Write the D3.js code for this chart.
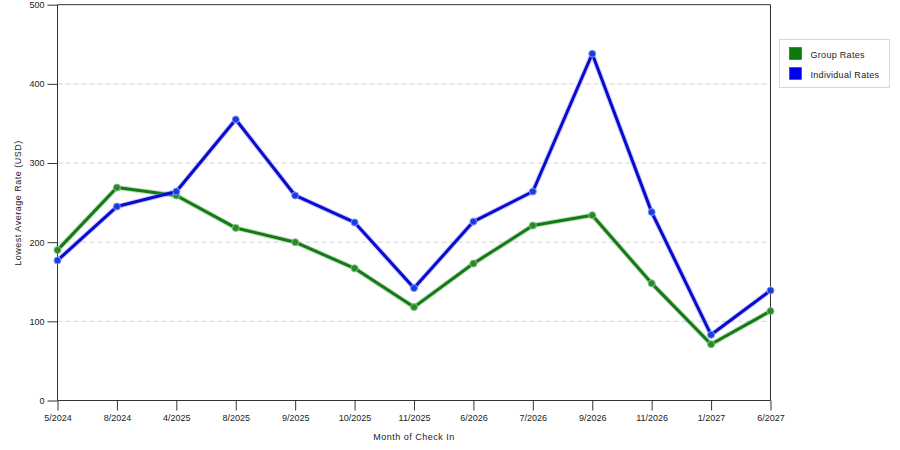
<!DOCTYPE html>
<html><head><meta charset="utf-8">
<script src="https://cdn.jsdelivr.net/npm/d3@7"></script>
<style>
body{margin:0;background:#fff;}
svg text{font-family:"Liberation Sans",Arial,sans-serif;font-size:9px;fill:#222;}
</style></head>
<body><svg id="c" width="900" height="450"></svg>
<script>
const months = ["5/2024","8/2024","4/2025","8/2025","9/2025","10/2025","11/2025","6/2026","7/2026","9/2026","11/2026","1/2027","6/2027"];
const groupRates = [190,269,259,218,200,167,118,173,221,234,148,71,113];
const individualRates = [177,245,264,355,259,225,142,226,264,438,238,83,139];
const yTicks = [0,100,200,300,400,500];
const seriesNames = ["Group Rates","Individual Rates"];

const svg = d3.select("#c");
const L=57.5, R=770.5, T=4.7, B=400.5;
const x = d3.scalePoint().domain(months).range([L,R]);
const y = d3.scaleLinear().domain([0,500]).range([B,T]);

// grid
svg.append("g").selectAll("line").data(yTicks.filter(d=>d>0&&d<500)).join("line")
  .attr("x1",L).attr("x2",R).attr("y1",d=>y(d)).attr("y2",d=>y(d))
  .attr("stroke","#d4d4d4").attr("stroke-dasharray","5,3").attr("stroke-width",1);

// frame top/right
svg.append("line").attr("x1",L).attr("x2",R).attr("y1",T).attr("y2",T).attr("stroke","#333");
svg.append("line").attr("x1",R).attr("x2",R).attr("y1",T).attr("y2",B).attr("stroke","#333");

// axes
const ya = svg.append("g").attr("transform",`translate(${L},0)`)
  .call(d3.axisLeft(y).tickValues(yTicks).tickSize(10).tickPadding(3));
const xa = svg.append("g").attr("transform",`translate(0,${B})`)
  .call(d3.axisBottom(x).tickSize(10).tickPadding(4));
[ya,xa].forEach(a=>{a.selectAll("path,line").attr("stroke","#333");a.selectAll("text").style("font-size","9px").attr("fill","#222");});
xa.select(".domain").attr("d",`M${L},0H${R}`);
ya.select(".domain").attr("d",`M0,${B}V${T}`);

svg.append("text").attr("x",414).attr("y",440).attr("text-anchor","middle").style("letter-spacing","0.5px").text("Month of Check In");
svg.append("text").attr("transform",`translate(21,203) rotate(-90)`).attr("text-anchor","middle").style("letter-spacing","0.5px").text("Lowest Average Rate (USD)");

const series = [
  {name:seriesNames[0], values:groupRates, color:"#157a15", halo:"#7fc07f", marker:"#2a8a2a", sw:"#0a7a0a"},
  {name:seriesNames[1], values:individualRates, color:"#0a0acc", halo:"#8f8fff", marker:"#1040e0", sw:"#0000ee"}
];
const line = d3.line().x((d,i)=>x(months[i])).y(d=>y(d));
series.forEach(s=>{
  svg.append("path").datum(s.values).attr("d",line).attr("fill","none")
    .attr("stroke",s.halo).attr("stroke-width",5).attr("stroke-opacity",0.5).attr("stroke-linejoin","round");
  svg.append("path").datum(s.values).attr("d",line).attr("fill","none")
    .attr("stroke",s.color).attr("stroke-width",3).attr("stroke-linejoin","round");
  svg.append("g").selectAll("circle").data(s.values).join("circle")
    .attr("cx",(d,i)=>x(months[i])).attr("cy",d=>y(d)).attr("r",3.5)
    .attr("fill",s.marker).attr("stroke",s.halo).attr("stroke-width",1);
});

// legend
const lg = svg.append("g");
lg.append("rect").attr("x",779.5).attr("y",39.5).attr("width",110).attr("height",48)
  .attr("fill","#fff").attr("stroke","#d8d8d8");
series.forEach((s,i)=>{
  lg.append("rect").attr("x",789.5).attr("y",47.5+i*20).attr("width",12).attr("height",12)
    .attr("fill",s.sw).attr("stroke","#333").attr("stroke-width",0.5);
  lg.append("text").attr("x",810.5).attr("y",57.5+i*20).style("letter-spacing","0.3px").text(s.name);
});
</script></body></html>
